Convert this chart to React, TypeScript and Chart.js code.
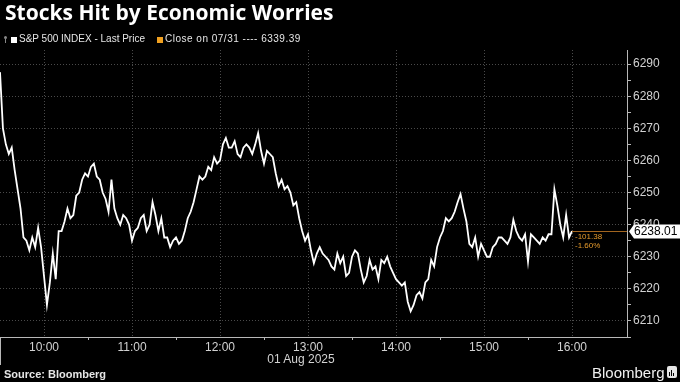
import React, { useEffect, useRef } from "react";
import { Chart, registerables } from "chart.js";

Chart.register(...registerables);

// ---------- data ----------
const chartTitle = "Stocks Hit by Economic Worries";
const seriesLabel = "S&P 500 INDEX - Last Price";
const closeLabel = "Close on 07/31";
const previousClose = 6339.39;
const sessionDate = "01 Aug 2025";
const sourceText = "Source: Bloomberg";
const brandText = "Bloomberg";

// minutes after midnight of first sample (09:30) and sample interval
const sessionStartMinutes = 570;
const stepMinutes = 2;

const prices = [
  6287.5, 6270, 6265, 6262, 6264, 6257, 6251, 6245, 6236, 6235,
  6232, 6236, 6233, 6239, 6233, 6224, 6215, 6222, 6231, 6223,
  6238, 6238, 6241, 6245, 6242, 6243, 6249, 6250, 6254, 6256,
  6255, 6258, 6259, 6255, 6254, 6250, 6248, 6244, 6254, 6245,
  6242, 6240, 6243, 6242, 6240, 6235, 6238, 6239, 6242, 6243,
  6238, 6240, 6247, 6243, 6238, 6242, 6236, 6236, 6233, 6235,
  6236, 6234, 6235, 6238, 6242, 6244, 6247, 6251, 6255, 6254,
  6255, 6258, 6257, 6261, 6259, 6260, 6265, 6267, 6264, 6264,
  6266, 6262, 6261, 6264, 6265, 6264, 6262, 6265, 6268.5, 6263,
  6259, 6263, 6262, 6261, 6256, 6252, 6254, 6251, 6252, 6250,
  6246, 6247, 6242, 6238, 6235, 6237, 6232, 6228, 6231, 6233,
  6231, 6230, 6229, 6227, 6226, 6231, 6228, 6230, 6224, 6225,
  6230, 6232, 6231, 6226, 6222, 6224, 6229, 6226, 6227, 6223,
  6229, 6228, 6230, 6227, 6225, 6223, 6222, 6221, 6222, 6216,
  6213, 6215, 6218, 6219, 6217, 6222, 6223, 6229, 6227, 6233,
  6236, 6238, 6242, 6241, 6242, 6244, 6247, 6249.5, 6245, 6241,
  6234, 6233, 6236, 6230, 6234, 6232, 6230, 6230, 6233, 6234,
  6236, 6236, 6235, 6234, 6236, 6241.5, 6238, 6236, 6235, 6237,
  6228.5, 6237, 6236, 6235, 6234, 6236, 6235, 6237, 6237, 6251,
  6246, 6240, 6236, 6243, 6236, 6238.01,
];

const xRange = [570, 997.5];
const xMajorTicks = [600, 660, 720, 780, 840, 900, 960];
const xMajorLabels = ["10:00", "11:00", "12:00", "13:00", "14:00", "15:00", "16:00"];
const xMinorTicks = [630, 690, 750, 810, 870, 930];

const yRange = [6205, 6294.4];
const yMajorTicks = [6210, 6220, 6230, 6240, 6250, 6260, 6270, 6280, 6290];
const yMinorTicks = [6205, 6215, 6225, 6235, 6245, 6255, 6265, 6275, 6285];

// ---------- styles ----------
const FONT = '"Liberation Sans", Arial, sans-serif';
const GRID = "#4a4a4a";
const AXIS = "#b8b8b8";
const LABEL = "#d2d2d2";
const ORANGE = "#e59a2c";
const ORANGE_LINE = "#a2651f";

const lastPricePlugin = {
  id: "lastPrice",
  afterDraw(chart: any) {
    const { ctx, chartArea, scales } = chart;
    const meta = chart.getDatasetMeta(0);
    const lastEl = meta.data[meta.data.length - 1];
    const last = prices[prices.length - 1];
    const change = last - previousClose;
    const pct = (change / previousClose) * 100;
    const y = Math.round(scales.y.getPixelForValue(last));
    ctx.save();
    // last price line
    ctx.strokeStyle = ORANGE_LINE;
    ctx.lineWidth = 1;
    ctx.beginPath();
    ctx.moveTo(lastEl.x, y + 0.5);
    ctx.lineTo(chartArea.right, y + 0.5);
    ctx.stroke();
    // change annotations
    ctx.fillStyle = ORANGE;
    ctx.font = `8px ${FONT}`;
    ctx.textAlign = "left";
    ctx.textBaseline = "middle";
    ctx.fillText(change.toFixed(2), lastEl.x + 3, y + 6);
    ctx.fillText(pct.toFixed(2) + "%", lastEl.x + 3, y + 15);
    // price box
    const tip = chartArea.right + 2;
    ctx.fillStyle = "#ffffff";
    ctx.beginPath();
    ctx.moveTo(tip, y + 0.5);
    ctx.lineTo(tip + 5, y - 6.5);
    ctx.lineTo(chart.width, y - 6.5);
    ctx.lineTo(chart.width, y + 7.5);
    ctx.lineTo(tip + 5, y + 7.5);
    ctx.closePath();
    ctx.fill();
    ctx.fillStyle = "#000000";
    ctx.font = `12px ${FONT}`;
    ctx.fillText(last.toFixed(2), tip + 5, y + 1);
    // day separator
    ctx.strokeStyle = AXIS;
    ctx.beginPath();
    ctx.moveTo(0.5, chartArea.bottom);
    ctx.lineTo(0.5, chartArea.bottom + 28);
    ctx.stroke();
    ctx.restore();
  },
};

export default function App() {
  const canvasRef = useRef<HTMLCanvasElement | null>(null);

  useEffect(() => {
    document.body.style.margin = "0";
    document.body.style.background = "#000";
    const canvas = canvasRef.current;
    if (!canvas) return;
    const points = prices.map((p, i) => ({ x: sessionStartMinutes + i * stepMinutes, y: p }));
    const chart = new Chart(canvas, {
      type: "line",
      data: {
        datasets: [
          {
            label: seriesLabel,
            data: points,
            borderColor: "#ffffff",
            borderWidth: 1.8,
            pointRadius: 0,
            tension: 0,
          },
        ],
      },
      options: {
        animation: false,
        responsive: false,
        events: [],
        layout: { padding: { top: 50, left: 0, right: 0, bottom: 0 } },
        plugins: { legend: { display: false }, tooltip: { enabled: false }, title: { display: false } },
        scales: {
          x: {
            type: "linear",
            position: "bottom",
            min: xRange[0],
            max: xRange[1],
            afterBuildTicks: (s: any) => {
              s.ticks = [...xMajorTicks, ...xMinorTicks].sort((a, b) => a - b).map((v) => ({ value: v }));
            },
            afterFit: (s: any) => {
              s.height = 45;
            },
            ticks: {
              autoSkip: false,
              maxRotation: 0,
              padding: 0,
              color: LABEL,
              font: { family: FONT, size: 12 },
              callback: (v: any) => {
                const i = xMajorTicks.indexOf(Number(v));
                return i >= 0 ? xMajorLabels[i] : "";
              },
            },
            grid: {
              color: (c: any) => (c.tick && xMajorTicks.includes(c.tick.value) ? GRID : "rgba(0,0,0,0)"),
              tickColor: (c: any) => (c.tick && xMajorTicks.includes(c.tick.value) ? "rgba(0,0,0,0)" : AXIS),
              tickLength: 3,
              lineWidth: 1,
            },
            border: { color: AXIS, width: 1, dash: [1, 2] },
          },
          y: {
            type: "linear",
            position: "right",
            min: yRange[0],
            max: yRange[1],
            afterBuildTicks: (s: any) => {
              s.ticks = [...yMajorTicks, ...yMinorTicks].sort((a, b) => a - b).map((v) => ({ value: v }));
            },
            afterFit: (s: any) => {
              s.width = 53;
            },
            ticks: {
              autoSkip: false,
              padding: 2,
              color: LABEL,
              font: { family: FONT, size: 12 },
              callback: (v: any) => (yMajorTicks.includes(Number(v)) ? String(v) : ""),
            },
            grid: {
              color: (c: any) => (c.tick && yMajorTicks.includes(c.tick.value) ? GRID : "rgba(0,0,0,0)"),
              tickColor: AXIS,
              tickLength: 4,
              lineWidth: 1,
            },
            border: { color: AXIS, width: 1, dash: [1, 2] },
          },
        },
      },
      plugins: [lastPricePlugin],
    } as any);
    return () => chart.destroy();
  }, []);

  const abs = (s: React.CSSProperties): React.CSSProperties => ({ position: "absolute", whiteSpace: "nowrap", ...s });

  return (
    <div style={{ position: "relative", width: 680, height: 382, background: "#000", overflow: "hidden" }}>
      <canvas ref={canvasRef} width={680} height={382} style={{ display: "block", position: "absolute", left: 0, top: 0 }} />
      <div style={abs({ left: 5, top: 2, fontFamily: '"Open Sans", sans-serif', fontWeight: 700, fontSize: 21, lineHeight: "21px", color: "#fff" })}>
        {chartTitle}
      </div>
      {/* legend */}
      <div style={abs({ left: 4, top: 36, width: 3, height: 3, borderRadius: 2, background: "#888" })} />
      <div style={abs({ left: 5, top: 39, width: 1, height: 4, background: "#888" })} />
      <div style={abs({ left: 11, top: 37, width: 6, height: 6, background: "#fff" })} />
      <div style={abs({ left: 19, top: 34, fontFamily: FONT, fontSize: 10, lineHeight: "10px", color: "#e6e6e6" })}>{seriesLabel}</div>
      <div style={abs({ left: 157, top: 37, width: 6, height: 6, background: "#f0a020" })} />
      <div style={abs({ left: 165, top: 34, fontFamily: FONT, fontSize: 10, lineHeight: "10px", color: "#e6e6e6", letterSpacing: 0.5 })}>
        {`${closeLabel} ---- ${previousClose.toFixed(2)}`}
      </div>
      {/* date */}
      <div style={abs({ left: 301, top: 353, transform: "translateX(-50%)", fontFamily: FONT, fontSize: 12, lineHeight: "12px", color: LABEL })}>
        {sessionDate}
      </div>
      {/* footer */}
      <div style={abs({ left: 4, top: 369, fontFamily: FONT, fontWeight: 700, fontSize: 11, lineHeight: "11px", color: "#e6e6e6" })}>
        {sourceText}
      </div>
      <div style={abs({ left: 592, top: 365, fontFamily: FONT, fontSize: 15, lineHeight: "15px", color: "#f0f0f0" })}>{brandText}</div>
      <div style={abs({ left: 667, top: 366, width: 10, height: 12, borderRadius: 2, background: "#e6e6e6" })}>
        <div style={abs({ left: 2, top: 6, width: 1, height: 4, background: "#000" })} />
        <div style={abs({ left: 4, top: 4, width: 1, height: 6, background: "#000" })} />
        <div style={abs({ left: 6, top: 7, width: 1, height: 3, background: "#000" })} />
      </div>
    </div>
  );
}
